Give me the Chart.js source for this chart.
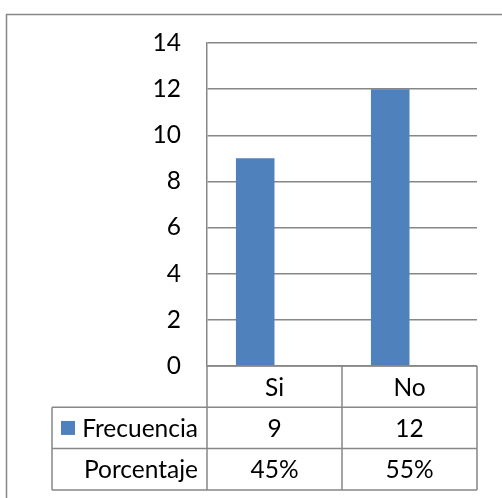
<!DOCTYPE html>
<html>
<head>
<meta charset="utf-8">
<script src="https://cdn.jsdelivr.net/npm/chart.js@4"></script>
<style>
html,body{margin:0;padding:0;background:#fff;}
#wrap{width:502px;height:498px;position:relative;}
</style>
</head>
<body>
<div id="wrap"><canvas id="c" width="502" height="498"></canvas></div>
<script>
const categories = ["Si", "No"];
const frecuencia = [9, 12];
const porcentaje = [0.45, 0.55];
const seriesNames = ["Frecuencia", "Porcentaje"];
const yTicks = [0, 2, 4, 6, 8, 10, 12, 14];

const FONT = "Lato";
const FSIZE = 24.5;
const LINE = "#878787";
const BAR = "#4F81BD";

const tablePlugin = {
  id: "dataTable",
  beforeDraw(chart) {
    const ctx = chart.ctx;
    ctx.save();
    ctx.fillStyle = "#fff";
    ctx.fillRect(0, 0, chart.width, chart.height);
    ctx.strokeStyle = LINE;
    ctx.lineWidth = 1.5;
    ctx.beginPath();
    ctx.moveTo(6.5, chart.height + 2);
    ctx.lineTo(6.5, 14.5);
    ctx.lineTo(chart.width + 2, 14.5);
    ctx.stroke();
    ctx.restore();
  },
  afterDraw(chart) {
    const ctx = chart.ctx;
    const y = chart.scales.y;
    const left = chart.chartArea.left;
    const right = chart.chartArea.right;
    const top = y.getPixelForValue(0);
    const rowH = 41.3;
    const r1 = top + rowH, r2 = top + 2 * rowH, r3 = top + 3 * rowH;
    const labelLeft = 52;
    const n = categories.length;
    const colW = (right - left) / n;
    ctx.save();
    ctx.strokeStyle = LINE;
    ctx.lineWidth = 1.5;
    ctx.beginPath();
    ctx.moveTo(left, top); ctx.lineTo(right, top);
    ctx.moveTo(labelLeft, r1); ctx.lineTo(right, r1);
    ctx.moveTo(labelLeft, r2); ctx.lineTo(right, r2);
    ctx.moveTo(labelLeft, r3); ctx.lineTo(right, r3);
    ctx.moveTo(labelLeft, r1); ctx.lineTo(labelLeft, r3);
    ctx.moveTo(left, top); ctx.lineTo(left, r3);
    for (let i = 1; i <= n; i++) {
      const xx = left + colW * i;
      ctx.moveTo(xx, top); ctx.lineTo(xx, r3);
    }
    ctx.stroke();

    ctx.fillStyle = "#000";
    ctx.font = FSIZE + "px " + FONT;
    ctx.textAlign = "center";
    ctx.textBaseline = "middle";
    categories.forEach((c, i) => {
      const cx = left + colW * (i + 0.5);
      ctx.fillText(c, cx, (top + r1) / 2 + 1);
      ctx.fillText(String(frecuencia[i]), cx, (r1 + r2) / 2 + 1);
      ctx.fillText(Math.round(porcentaje[i] * 100) + "%", cx, (r2 + r3) / 2 + 1);
    });
    ctx.textAlign = "right";
    ctx.fillText(seriesNames[0], left - 9, (r1 + r2) / 2 + 1);
    ctx.fillText(seriesNames[1], left - 9, (r2 + r3) / 2 + 1);
    ctx.fillStyle = BAR;
    ctx.fillRect(61, (r1 + r2) / 2 - 7, 14, 14);
    ctx.restore();
  }
};

new Chart(document.getElementById("c"), {
  type: "bar",
  data: {
    labels: categories,
    datasets: [
      { label: seriesNames[0], data: frecuencia, backgroundColor: BAR, borderWidth: 0,
        categoryPercentage: 2 / 3.5, barPercentage: 1 },
      { label: seriesNames[1], data: porcentaje, backgroundColor: "rgba(0,0,0,0)", borderWidth: 0,
        categoryPercentage: 2 / 3.5, barPercentage: 1 }
    ]
  },
  options: {
    responsive: false,
    animation: false,
    devicePixelRatio: 1,
    layout: { padding: { top: 43, right: 25, bottom: 132, left: 0 } },
    plugins: { legend: { display: false }, tooltip: { enabled: false } },
    scales: {
      x: {
        display: true,
        ticks: { display: false },
        grid: { display: false, drawTicks: false },
        border: { display: false }
      },
      y: {
        min: 0, max: 14,
        afterBuildTicks(s) { s.ticks = yTicks.map(v => ({ value: v })); },
        afterFit(s) { s.width = 207; },
        ticks: { color: "#000", font: { family: FONT, size: FSIZE }, padding: 26 },
        grid: { color: LINE, lineWidth: 1.5, drawTicks: false },
        border: { display: true, color: LINE, width: 1.5 }
      }
    }
  },
  plugins: [tablePlugin]
});
</script>
</body>
</html>
